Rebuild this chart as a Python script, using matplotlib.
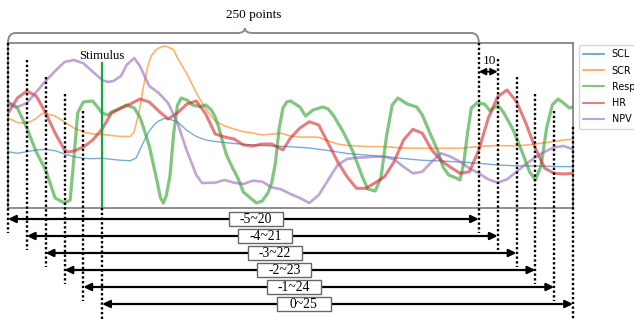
import matplotlib
matplotlib.use("Agg")
import matplotlib.pyplot as plt
from matplotlib.patches import FancyArrowPatch, Rectangle, PathPatch
from matplotlib.path import Path

# ---------------- data (x in sample points, y in signal units) ----------------
scl_x = [0, 5, 10, 15, 20, 25, 30, 35, 40, 45, 50, 55, 60, 65, 68, 70, 73, 75, 78, 80, 83, 85, 90,
         95, 100, 105, 110, 115, 120, 130, 140, 150, 160, 170, 180, 190, 200, 210, 220, 230, 240,
         250, 260, 270, 280, 290, 300]
scl_y = [56.3, 54.7, 56.3, 58, 58.7, 57.3, 54, 51.3, 49.7, 49.3, 49.7, 48.7, 47.7, 47.3, 50, 58, 70,
         77, 84, 87, 89.5, 89.3, 86, 77.5, 71.5, 68, 66.5, 65.5, 64.5, 63, 62, 61.3, 60, 57.5, 54.5,
         53, 51.3, 49.5, 47.7, 47, 46, 44.7, 43, 42.2, 42, 41.5, 41.3]

scr_x = [0, 5, 10, 15, 18, 20, 25, 30, 35, 40, 45, 50, 55, 60, 65, 67, 70, 72, 74, 76, 78, 80, 83,
         85, 88, 90, 95, 100, 105, 110, 115, 120, 125, 130, 135, 140, 145, 150, 155, 160, 165, 170,
         175, 180, 190, 200, 210, 220, 230, 240, 250, 260, 270, 280, 290, 295, 300]
scr_y = [90, 85.5, 84.5, 89.5, 94.5, 94.5, 92, 86, 80, 76, 74, 73.5, 72.5, 71.5, 71.5, 76, 100, 122,
         140, 152, 157, 160, 162, 161, 158, 150, 134, 115, 99, 87, 82, 79, 76.3, 75, 73, 74, 74.7,
         72, 70.8, 71, 70.7, 67, 64, 62.5, 61.5, 61.3, 60, 59.7, 59.7, 59.7, 61.5, 62.5, 62, 64,
         66.5, 68, 68.7]

resp_x = [0, 5, 10, 15, 20, 25, 30, 33, 35, 37, 40, 45, 50, 53, 55, 60, 63, 67, 70, 72, 75, 77, 79,
          81, 82.5, 84, 86, 88, 90, 92, 95, 98, 102, 105, 108, 110, 112, 114, 116, 119, 122, 125,
          128, 132, 135, 138, 140, 142, 144, 146, 148, 150, 155, 158, 162, 167, 170, 173, 178, 183,
          188, 191, 195, 198, 201, 204, 207, 212, 217, 220, 224, 228, 231, 234, 238, 240, 242, 244,
          246, 249, 253, 256, 260, 263, 268, 273, 277, 280, 283, 286, 289, 292, 295, 298, 300]
resp_y = [105, 100, 80, 56, 38, 10, 5, 8, 50, 95, 106, 107, 95, 93, 96, 100, 103, 100, 91, 80, 62,
          45, 28, 10, 5, 12, 32, 75, 103, 110, 108, 103, 101.3, 103, 98, 91, 80, 66, 53, 41, 30, 16,
          11, 5, 7, 15, 25, 45, 80, 100, 106, 107, 101, 92, 98, 101, 99, 92, 76, 57, 32, 19, 17, 30,
          72, 103, 110, 104, 101, 93, 75, 58, 41, 33, 30, 28, 45, 75, 100, 105, 104, 97, 103, 96,
          79, 56, 36, 28, 42, 80, 103, 109, 105, 100, 101]

hr_x = [0, 5, 10, 15, 20, 25, 30, 32, 35, 40, 45, 50, 55, 60, 65, 70, 75, 80, 85, 90, 95, 100, 105,
        110, 115, 120, 125, 130, 135, 140, 146, 150, 155, 160, 165, 170, 175, 180, 185, 190, 195,
        200, 205, 210, 215, 220, 225, 230, 235, 240, 245, 250, 255, 260, 265, 270, 275, 280, 285,
        290, 295, 300]
hr_y = [95, 110, 117, 112, 95, 75, 58, 56, 57, 61, 68, 79, 95, 100, 104, 109, 106, 97, 89, 95, 104,
        107, 94, 74, 71, 69, 63, 62, 64, 64, 58, 70, 80, 86.3, 83, 64.7, 46.3, 31.3, 19.7, 19.7,
        25.3, 31.3, 46.3, 68, 78.7, 74.7, 58, 47.3, 40.7, 34.7, 36.3, 58, 89.7, 111.3, 118, 106.3,
        84.7, 59.7, 39.7, 34.7, 34, 34.7]

npv_x = [0, 5, 10, 15, 20, 25, 30, 35, 40, 45, 50, 53, 56, 60, 63, 67, 70, 72, 75, 80, 85, 90, 95,
         100, 103, 110, 115, 120, 125, 130, 135, 140, 145, 150, 155, 160, 165, 170, 175, 180, 185,
         190, 195, 200, 205, 210, 215, 220, 225, 230, 235, 240, 245, 250, 255, 260, 265, 270, 275,
         280, 285, 290, 295, 300]
npv_y = [106, 101, 105, 116, 127, 137, 146, 148, 144.7, 136.3, 128, 126, 127, 132, 143, 150, 142,
         134, 122, 115, 105, 85, 57, 33, 25, 25.3, 28, 25.3, 24, 27.3, 26.3, 20.7, 18.7, 14, 10, 5,
         13, 28, 43, 49, 50.3, 50.7, 51.3, 51.3, 48.7, 41.3, 34.7, 36.3, 46.3, 54.7, 51.3, 46.3,
         39.7, 34.7, 28.7, 25.3, 28.7, 36.3, 44, 50.7, 56.3, 60.7, 62, 58.7]

series_names = ["SCL", "SCR", "Resp", "HR", "NPV"]
series_x = [scl_x, scr_x, resp_x, hr_x, npv_x]
series_y = [scl_y, scr_y, resp_y, hr_y, npv_y]

window_starts = [0, 10, 20, 30, 40, 50]
window_length = 250
window_labels = ["-5~20", "-4~21", "-3~22", "-2~23", "-1~24", "0~25"]
stimulus_x = 50
step_label = "10"
total_label = "250 points"

# ---------------- figure ----------------
W, H = 634, 320
fig = plt.figure(figsize=(W / 100, H / 100), dpi=100)
ax = fig.add_axes([8 / W, 112 / H, 565 / W, 165 / H])
ax.set_xlim(0, 300)
ax.set_ylim(0, 165)
ax.set_xticks([])
ax.set_yticks([])
for sp in ax.spines.values():
    sp.set_color("#707070")
    sp.set_linewidth(1.1)

colors = ["#1f77b4", "#ff7f0e", "#2ca02c", "#d62728", "#9467bd"]
widths = [1.0, 1.2, 2.3, 2.2, 1.9]
lines = []
for name, xs, ys, c, lw in zip(series_names, series_x, series_y, colors, widths):
    ln, = ax.plot(xs, ys, color=c, lw=lw, alpha=0.6, label=name,
                  solid_capstyle="round", solid_joinstyle="round")
    lines.append(ln)

serif = "Liberation Serif"
dot = dict(color="black", lw=1.7, linestyle=(0, (1, 1)), clip_on=False, zorder=5)

# vertical dotted guide lines
left_tops = [165, 148, 131, 114, 97]
right_tops = [165, 149, 131, 114, 97, 81]
bottoms = [-25, -42, -59, -76, -93, -112]
for i, s in enumerate(window_starts):
    e = s + window_length
    if s != stimulus_x:
        ax.plot([s, s], [left_tops[i], bottoms[i]], **dot)
    else:
        ax.plot([s, s], [0, bottoms[i]], **dot)
    ax.plot([e, e], [right_tops[i], bottoms[i]], **dot)

# stimulus line
ax.plot([stimulus_x, stimulus_x], [0, 145], color="#16a83c", lw=1.6, zorder=6)
ax.text(stimulus_x, 152, "Stimulus", family=serif, fontsize=9.3, ha="center", va="center")

# window arrows + labels
arrow_y = [-11, -28, -45, -62, -79, -96]
box_w = 54 / (565 / 300)
for i, (s, lab) in enumerate(zip(window_starts, window_labels)):
    y = arrow_y[i]
    arr = FancyArrowPatch((s, y), (s + window_length, y),
                          arrowstyle="<|-|>,head_length=0.45,head_width=0.22",
                          mutation_scale=10, lw=1.6, color="black",
                          shrinkA=0, shrinkB=0, clip_on=False, zorder=6)
    ax.add_patch(arr)
    cx = 131.5 + 5.1 * i
    ax.add_patch(Rectangle((cx - box_w / 2, y - 7), box_w, 14, facecolor="white",
                           edgecolor="#666666", lw=1.0, clip_on=False, zorder=7))
    ax.text(cx, y - 0.5, lab, family=serif, fontsize=9.8, ha="center", va="center", zorder=8)

# "10" step annotation
ax.add_patch(FancyArrowPatch((250, 136.3), (260, 136.3),
                             arrowstyle="<|-|>,head_length=0.4,head_width=0.2",
                             mutation_scale=10, lw=1.3, color="black",
                             shrinkA=0, shrinkB=0, clip_on=False, zorder=8))
ax.text(255.5, 147, step_label, family=serif, fontsize=9.5, ha="center", va="center")

# brace for 250 points
tip = 125.8
verts = [(0, 165), (0, 175), (4, 175),
         (tip - 4, 175), (tip, 175), (tip, 180),
         (tip, 175), (tip + 4, 175),
         (window_length - 4, 175), (window_length, 175), (window_length, 165)]
codes = [Path.MOVETO, Path.CURVE3, Path.CURVE3,
         Path.LINETO, Path.CURVE3, Path.CURVE3,
         Path.CURVE3, Path.CURVE3,
         Path.LINETO, Path.CURVE3, Path.CURVE3]
ax.add_patch(PathPatch(Path(verts, codes), facecolor="none", edgecolor="#8a8a8a",
                       lw=1.4, clip_on=False))
ax.text(130.5, 193, total_label, family=serif, fontsize=9.5, ha="center", va="center")

# legend
leg = fig.legend(handles=lines, loc="upper left", bbox_to_anchor=(579 / W, 1 - 45 / H),
                 bbox_transform=fig.transFigure, borderaxespad=0, fontsize=6.9,
                 handlelength=2.2, handletextpad=0.75, labelspacing=0.65, borderpad=0.45)
for h in leg.get_lines():
    h.set_linewidth(1.5)

fig.savefig("out.png", dpi=100)
